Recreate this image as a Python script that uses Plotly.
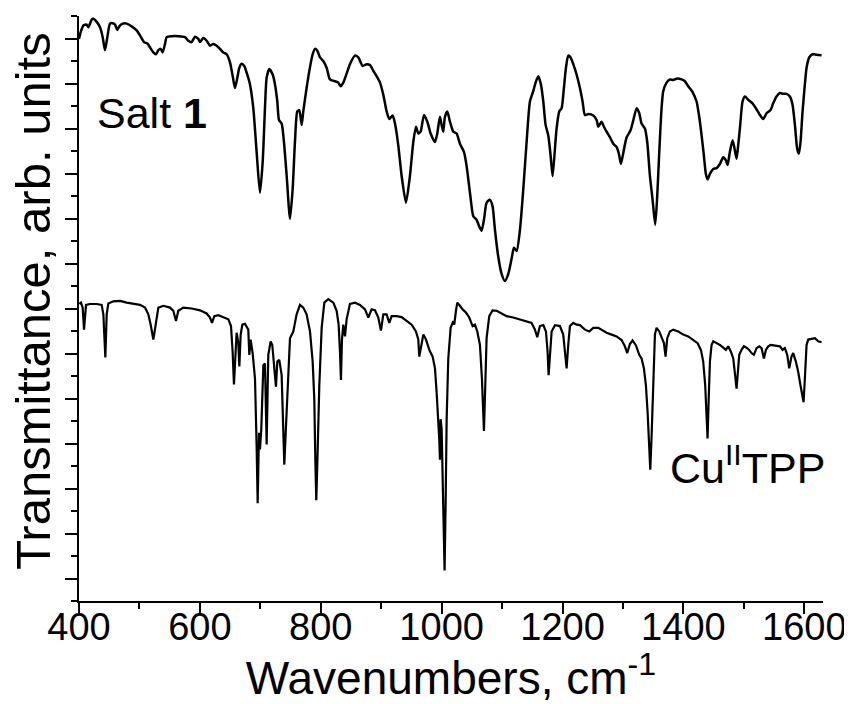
import plotly.graph_objects as go

# ---- Salt 1 spectrum (wavenumber, transmittance in arb. units) ----
salt_wn = [400, 402.8, 407.2, 412.7, 415.5, 421, 423.7, 429.3, 434.8, 439.2, 443, 446.9, 451.3, 455.7,
           459.6, 463.4, 466.7, 472.3, 478.9, 487.2, 495.4, 500.9, 507.6, 513.1, 517.5, 523, 527.4,
           531.3, 535.1, 538.4, 542.3, 545.1, 553.3, 564.4, 575.4, 580.9, 586.4, 591.9, 597.4, 600.2,
           605.7, 611.2, 616.7, 622.3, 627.8, 633.3, 638.8, 644.3, 649.8, 654.2, 658.1, 662, 665.3,
           669.1, 673.5, 677.4, 682.9, 688.4, 693.9, 699.4, 703.9, 707.7, 710.5, 714.9, 720.4, 724.3,
           728.1, 730.9, 735.3, 739.1, 743.6, 749.1, 753.5, 757.3, 761.2, 764.5, 768.4, 771.1, 776.6,
           781.1, 786.6, 790.4, 794.3, 798.7, 804.2, 809.7, 815.2, 823.5, 829, 832.9, 837.3, 842.8,
           848.3, 856.6, 862.1, 869.3, 875.9, 881.4, 887, 892.5, 898, 903.5, 909, 913.4, 918.9, 922.8,
           928.3, 933.8, 941, 947.6, 953.1, 957.5, 961.4, 965.2, 970.8, 976.3, 981.8, 989, 992.8,
           997.2, 1000, 1002.7, 1005.5, 1009.4, 1013.8, 1019.3, 1024.8, 1030.3, 1036.9, 1041.3,
           1046.9, 1052.4, 1057.9, 1062.3, 1066.1, 1070, 1074.4, 1079.9, 1084.3, 1088.2, 1093.7,
           1099.2, 1104.7, 1110.3, 1115.8, 1119.6, 1124.1, 1129.6, 1135.1, 1140.6, 1146.1, 1151.6,
           1155.5, 1159.9, 1164.3, 1168.2, 1172, 1176.4, 1180.3, 1183.6, 1187.5, 1190.2, 1194.6,
           1198.5, 1202.3, 1205.7, 1209.5, 1213.4, 1217.8, 1223.3, 1228.8, 1233.2, 1237.1, 1242.6,
           1250.9, 1256.4, 1259.1, 1264.6, 1268.5, 1272.9, 1278.4, 1284, 1289.5, 1293.9, 1296.6,
           1300.5, 1306, 1312.6, 1317.3, 1322.6, 1327, 1330.8, 1336.3, 1340.2, 1344.6, 1349,
           1353.4, 1356.7, 1360.1, 1363.9, 1366.7, 1372.2, 1377.7, 1383.2, 1389.8, 1397, 1402.5,
           1408, 1415.2, 1421.8, 1426.2, 1430.1, 1433.9, 1437.2, 1440, 1443.9, 1449.4, 1454.9,
           1460.4, 1465.9, 1470.3, 1473.1, 1476.9, 1481.4, 1484.7, 1488, 1490.7, 1493.5, 1497.9,
           1501.8, 1507.3, 1514.4, 1520, 1526.6, 1532.1, 1537.6, 1544.2, 1548.6, 1554.1, 1559.7,
           1565.2, 1570.7, 1576.2, 1580.6, 1584.5, 1588.3, 1591.1, 1593.8, 1597.2, 1601, 1603.8,
           1608.2, 1613.7, 1620.3, 1628.6]
salt_t = [12.49, 12.64, 12.79, 12.81, 12.75, 12.92, 12.94, 12.87, 12.75, 12.53, 12.24, 12.53, 12.83, 12.84,
          12.81, 12.69, 12.77, 12.83, 12.83, 12.77, 12.68, 12.57, 12.42, 12.39, 12.30, 12.19, 12.15,
          12.24, 12.27, 12.19, 12.38, 12.53, 12.55, 12.55, 12.53, 12.45, 12.42, 12.54, 12.49, 12.42,
          12.51, 12.45, 12.34, 12.38, 12.34, 12.27, 12.19, 12.15, 11.97, 11.67, 11.40, 11.63, 11.85,
          11.94, 11.89, 11.74, 11.48, 10.95, 9.98, 9.07, 9.75, 10.95, 11.63, 11.82, 11.70, 11.48,
          11.10, 10.69, 10.61, 10.20, 9.45, 8.49, 9.15, 10.20, 10.88, 10.91, 10.58, 10.88, 11.40,
          11.78, 12.15, 12.27, 12.23, 12.08, 12.00, 11.85, 11.59, 11.55, 11.52, 11.44, 11.52, 11.72,
          11.93, 12.12, 12.08, 11.89, 11.93, 11.91, 11.78, 11.66, 11.52, 11.25, 10.88, 10.71, 10.79, 10.61,
          10.12, 9.45, 8.85, 9.45, 10.20, 10.54, 10.39, 10.43, 10.80, 10.65, 10.39, 10.20, 10.39,
          10.76, 10.58, 10.43, 10.76, 10.88, 10.65, 10.43, 10.39, 10.16, 9.98, 9.67,
          9.07, 8.55, 8.47, 8.32, 8.23, 8.47, 8.85, 8.92, 8.77, 8.25, 7.65,
          7.27, 7.11, 7.27, 7.61, 7.85, 7.78, 8.25, 9.15, 10.20, 11.10, 11.33,
          11.52, 11.66, 11.48, 11.10, 10.58, 10.35, 9.90, 9.44, 10.05, 10.50, 10.88,
          10.95, 11.40, 11.85, 12.12, 12.08, 11.93, 11.70, 11.40, 11.10, 10.80, 10.82,
          10.79, 10.69, 10.54, 10.65, 10.54, 10.43, 10.31, 10.16, 10.09, 9.90, 9.71,
          9.95, 10.30, 10.46, 10.69, 10.95, 10.84, 10.61, 10.50, 10.20, 9.45, 8.92,
          8.36, 9.00, 9.98, 10.95, 11.33, 11.52, 11.59, 11.58, 11.61, 11.59, 11.55,
          11.44, 11.31, 11.10, 10.76, 10.35, 9.90, 9.49, 9.37, 9.49, 9.60, 9.62,
          9.71, 9.86, 9.79, 9.69, 9.98, 10.24, 10.05, 9.83, 10.13, 10.50, 11.10,
          11.21, 11.14, 11.06, 10.95, 10.80, 10.71, 10.84, 10.91, 11.06, 11.21, 11.29,
          11.27, 11.27, 11.21, 11.03, 10.58, 10.05, 9.94, 10.20, 10.88, 11.48, 11.85,
          12.08, 12.15, 12.14, 12.13]

# ---- Cu(II)TPP spectrum ----
cutpp_wn = [400.6, 403.3, 406.1, 408.3, 411.6, 418.2, 429.3, 437.5, 440.3, 443.6, 445.8, 448.6, 456.8,
            467.9, 478.9, 489.9, 501, 509.2, 514.7, 518.6, 523, 526.9, 531.3, 539.5, 550.6, 556.1,
            560.5, 564.3, 572.6, 586.4, 600.2, 611.2, 616.7, 620.0, 623.9, 630.5, 638.8, 647.1, 651.5,
            654.2, 656.4, 658.6, 660.8, 663.6, 665.3, 667.5, 670.2, 674.6, 680.1, 681.8, 684, 687.3,
            691.2, 693.9, 695.6, 697.8, 699.4, 701.6, 705, 707.7, 710.5, 713.2, 717.1, 719.8, 722.6,
            725.9, 728.1, 731.4, 735.3, 738, 739.7, 742.5, 745.2, 749.1, 754.6, 760.1, 765.6, 771.1,
            776.6, 782.2, 786.6, 789.3, 791, 792.6, 794.8, 797.6, 801.5, 805.9, 812.5, 820.8, 826.3,
            829.6, 831.8, 833.4, 835.1, 837.3, 840.1, 842.8, 848.3, 856.6, 864.9, 873.2, 878.7, 884.2,
            889.7, 895.2, 899.6, 903.5, 909, 913.4, 917.3, 925.5, 933.8, 942.1, 950.4, 957.5, 961.4,
            963, 965.2, 969.7, 974.1, 979.6, 985.1, 989, 991.7, 994.5, 996.1, 997.2, 998.3, 1000,
            1001.6, 1003.8, 1004.9, 1006.6, 1008.3, 1011, 1014.9, 1019.3, 1020.9, 1023.7, 1025.9,
            1030.3, 1034.7, 1040.2, 1045.7, 1051.3, 1055.1, 1059, 1063.4, 1066.7, 1068.9, 1070,
            1072.2, 1074.4, 1078.8, 1084.3, 1091, 1099.2, 1107.5, 1118.5, 1129.6, 1140.6, 1148.9,
            1154.4, 1158.2, 1162.6, 1168.2, 1172.6, 1175.3, 1177, 1179.2, 1182, 1187.5, 1195.7,
            1201.2, 1204.6, 1206.8, 1209.5, 1212.3, 1217.8, 1223.3, 1228.8, 1237.1, 1244.3, 1250.9,
            1259.2, 1267.4, 1272.9, 1281.2, 1289.5, 1297.7, 1303.2, 1307.1, 1311.5, 1315.9, 1321.5,
            1327, 1330.8, 1334.7, 1338, 1340.8, 1343.5, 1345.2, 1347.4, 1350.1, 1352.9, 1355.6,
            1360.1, 1364.5, 1367.8, 1370.5, 1373.3, 1377.7, 1383.2, 1391.5, 1399.8, 1408, 1416.3,
            1423.5, 1429, 1432.8, 1436.1, 1438.4, 1440, 1441.7, 1443.9, 1446.6, 1449.4, 1454.9,
            1460.4, 1465.9, 1470.3, 1474.2, 1478.6, 1482.5, 1485.2, 1488, 1490.2, 1492.4, 1496.2,
            1500.1, 1504.5, 1508.9, 1512.8, 1516.6, 1521.1, 1525.5, 1529.3, 1533.2, 1536.5, 1540.4,
            1544.2, 1548.6, 1554.1, 1559.7, 1564.1, 1567.9, 1571.8, 1575.1, 1578.9, 1581.7, 1586.1,
            1590, 1593.8, 1597.2, 1598.8, 1601, 1603.8, 1606.6, 1612.1, 1617.6, 1623.1, 1628.6]
cutpp_t = [6.60, 6.63, 6.52, 6.03, 6.58, 6.60, 6.60, 6.58, 6.37, 5.41, 6.37, 6.61, 6.66,
           6.67, 6.63, 6.61, 6.58, 6.52, 6.37, 6.14, 5.81, 6.14, 6.52, 6.56, 6.52, 6.45,
           6.22, 6.45, 6.52, 6.50, 6.46, 6.39, 6.30, 6.18, 6.33, 6.35, 6.31, 6.26, 6.11,
           5.54, 4.81, 5.54, 5.96, 5.73, 5.21, 5.92, 6.14, 6.16, 6.03, 5.47, 5.81, 5.51,
           4.94, 3.44, 2.17, 3.74, 3.37, 3.82, 5.24, 5.28, 3.48, 5.47, 5.77, 5.69, 5.32,
           4.76, 5.32, 5.36, 5.02, 4.04, 3.03, 3.89, 4.79, 5.84, 5.99, 6.37, 6.58, 6.52,
           6.37, 5.99, 5.32, 4.49, 3.14, 2.24, 3.29, 4.79, 6.07, 6.63, 6.71, 6.63, 6.45,
           6.14, 5.54, 4.91, 5.81, 6.14, 5.88, 6.26, 6.60, 6.63, 6.58, 6.48, 6.30, 6.48,
           6.46, 6.30, 6.01, 6.37, 6.37, 6.18, 6.33, 6.33, 6.31, 6.22, 6.14, 5.99, 5.81,
           5.43, 5.62, 5.92, 5.81, 5.58, 5.43, 5.17, 4.64, 4.04, 3.59, 3.14, 4.04, 3.82,
           2.54, 1.34, 0.68, 2.17, 4.04, 5.39, 6.07, 6.22, 6.14, 6.45, 6.63,
           6.56, 6.48, 6.41, 6.30, 6.11, 6.14, 5.99, 5.69, 4.94, 4.04, 3.78,
           4.79, 5.84, 6.33, 6.46, 6.45, 6.39, 6.33, 6.30, 6.26, 6.22, 6.18,
           6.03, 5.86, 6.11, 6.13, 5.99, 5.54, 5.02, 5.54, 5.99, 6.13, 6.11,
           5.92, 5.47, 5.17, 5.69, 6.11, 6.18, 6.14, 6.13, 6.03, 5.99, 6.07,
           6.07, 6.01, 5.96, 5.92, 5.88, 5.80, 5.66, 5.51, 5.71, 5.79, 5.68,
           5.47, 5.39, 5.17, 4.79, 4.19, 3.52, 2.92, 3.67, 5.02, 5.92, 6.07,
           5.99, 5.84, 5.73, 5.43, 5.84, 5.99, 6.03, 5.99, 5.92, 5.88, 5.81,
           5.73, 5.58, 5.32, 4.79, 4.04, 3.61, 4.42, 5.32, 5.69, 5.77, 5.73,
           5.69, 5.63, 5.58, 5.66, 5.54, 5.39, 5.09, 4.72, 5.09, 5.47, 5.58,
           5.66, 5.63, 5.58, 5.51, 5.47, 5.62, 5.66, 5.62, 5.39, 5.58, 5.66,
           5.69, 5.68, 5.66, 5.66, 5.58, 5.62, 5.47, 5.17, 5.43, 5.51, 5.32,
           5.09, 4.79, 4.49, 4.42, 4.94, 5.69, 5.81, 5.83, 5.84, 5.77, 5.75]

x_range = [400, 1631]
x_ticks = [400, 600, 800, 1000, 1200, 1400, 1600]
x_minor = [500, 700, 900, 1100, 1300, 1500]
y_major = [0.5 + i for i in range(13)]
y_minor = [float(i) for i in range(14)]

FONT = "Liberation Sans, Arial, Helvetica, sans-serif"

fig = go.Figure()
fig.add_trace(go.Scatter(x=salt_wn, y=salt_t, mode="lines", name="Salt 1",
                         line=dict(color="black", width=2.5, shape="spline", smoothing=0.6),
                         showlegend=False))
# CuTPP is drawn on the overlay x axis (same range), which carries the tick labels
fig.add_trace(go.Scatter(x=cutpp_wn, y=cutpp_t, mode="lines", name="CuIITPP",
                         xaxis="x2", yaxis="y",
                         line=dict(color="black", width=2.2), showlegend=False))

# the page body adds an 8 px offset, so the figure is sized to fit the 852x704 window
fig.update_layout(
    width=844, height=696,
    margin=dict(l=71, r=29, t=8, b=103, autoexpand=False),
    paper_bgcolor="white", plot_bgcolor="white",
    font=dict(family=FONT, color="black"),
    # main x axis: line and tick marks
    xaxis=dict(range=x_range, showgrid=False, zeroline=False,
               showline=True, linecolor="black", linewidth=2,
               tickmode="array", tickvals=x_ticks, ticks="outside", ticklen=11, tickwidth=2,
               tickcolor="black", showticklabels=False,
               minor=dict(tickmode="array", tickvals=x_minor, ticks="outside", ticklen=6,
                          tickwidth=2, tickcolor="black", showgrid=False)),
    # overlay x axis: tick labels and title, placed close to the axis line
    xaxis2=dict(range=x_range, overlaying="x", anchor="y", side="bottom",
                showgrid=False, zeroline=False, showline=False, ticks="",
                tickmode="array", tickvals=x_ticks, tickfont=dict(size=38, family=FONT),
                title=dict(text="Wavenumbers, cm<sup>-1</sup>", font=dict(size=46, family=FONT),
                           standoff=14)),
    yaxis=dict(range=[0, 13], showgrid=False, zeroline=False,
               showline=True, linecolor="black", linewidth=2,
               tickmode="array", tickvals=y_major, ticks="outside", ticklen=12, tickwidth=2,
               tickcolor="black", showticklabels=False,
               minor=dict(tickmode="array", tickvals=y_minor, ticks="outside", ticklen=6,
                          tickwidth=2, tickcolor="black", showgrid=False)),
    annotations=[
        dict(text="Transmittance, arb. units", xref="paper", yref="paper", x=-0.062, y=0.513,
             xanchor="center", yanchor="middle", textangle=-90, showarrow=False,
             font=dict(size=49, family=FONT, color="black")),
        dict(text="Salt <b>1</b>", xref="paper", yref="paper", x=0.022, y=0.834,
             xanchor="left", yanchor="middle", showarrow=False,
             font=dict(size=43, family=FONT, color="black")),
        dict(text="Cu<sup>II</sup>TPP", xref="paper", yref="paper", x=1.006, y=0.233,
             xanchor="right", yanchor="middle", showarrow=False,
             font=dict(size=43, family=FONT, color="black")),
    ],
)

fig.write_html("out.html")
